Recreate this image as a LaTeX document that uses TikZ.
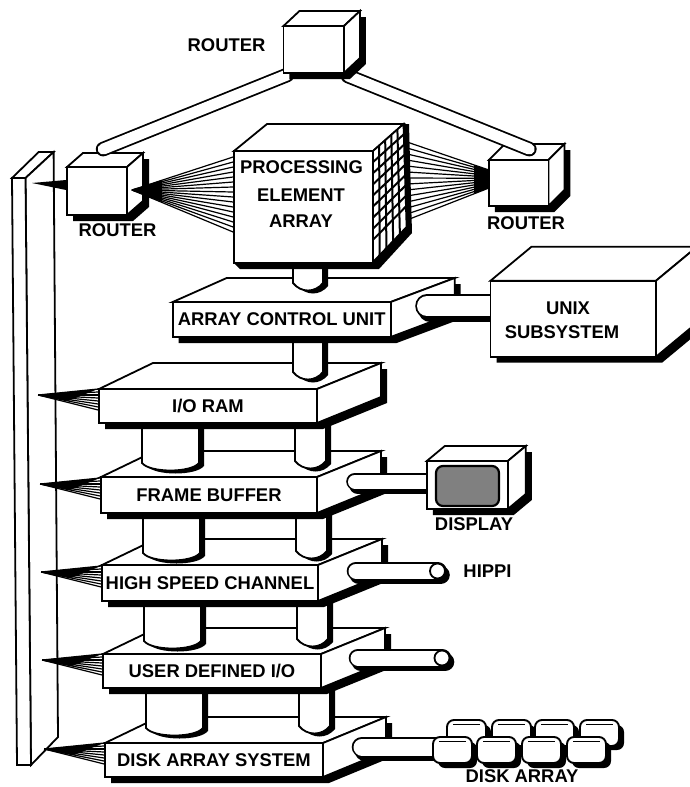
\documentclass[tikz,border=0pt]{standalone}
\usepackage{fontspec}
\setmainfont{Liberation Sans}
\usetikzlibrary{calc}
\tikzset{
  face/.style={draw=black,fill=white,line width=1.8pt,line join=miter},
  lbl/.style={font=\fontsize{18.4}{20}\selectfont\bfseries,inner sep=0pt},
  fan line/.style={draw=black,line width=1.2pt},
  hose/.style={draw=black,double=white,line width=1.8pt,line cap=round},
  hose shade/.style={draw=black,line cap=round,transform canvas={xshift=3pt,yshift=-4pt}},
  hose end/.style={circle,face,minimum size=15pt,inner sep=0pt},
  screen/.style={draw=black,fill=black!50,line width=2.2pt,rounded corners=7pt,inner sep=0pt},
  grid line/.style={draw=black,line width=2pt},
  disk/.style={draw=black,fill=white,line width=1.9pt,rounded corners=7pt},
  disk shade/.style={fill=black,rounded corners=7pt}
}
\newcommand{\slab}[9]{%
  \begin{scope}[shift={(#2,#3)}]
    \fill[black,shift={(6,6)}] (-#4/2,#5/2) -- (#4/2,#5/2) -- (#4/2+#7,#5/2-#8) -- (#4/2+#7,-#5/2-#8)
      -- (-#4/2+#6,-#5/2-#8) -- (-#4/2,-#5/2) -- cycle;
    \draw[face] (-#4/2,-#5/2) -- (-#4/2+#6,-#5/2-#8) -- (#4/2+#7,-#5/2-#8) -- (#4/2,-#5/2) -- cycle;
    \draw[face] (#4/2,-#5/2) -- (#4/2+#7,-#5/2-#8) -- (#4/2+#7,#5/2-#8) -- (#4/2,#5/2) -- cycle;
    \node[face,lbl,minimum width=#4pt,minimum height=#5pt] (#1) at (0,0) {#9};
  \end{scope}}
\newcommand{\stackpost}[4]{%
  \fill[black,shift={(5,3)}] (#1,#3) -- (#1,#4) .. controls (#1+8,#4+10) and (#2-8,#4+10) .. (#2,#4) -- (#2,#3) -- cycle;
  \draw[face] (#1,#3) -- (#1,#4) .. controls (#1+8,#4+10) and (#2-8,#4+10) .. (#2,#4) -- (#2,#3);}

\begin{document}
\begin{tikzpicture}[x=1pt,y=-1pt]
  \path[use as bounding box,fill=white] (0,0) rectangle (689,787);

  \draw[face] (12,178) -- (38.7,152) -- (53.6,152) -- (25.5,178) -- cycle;
  \draw[face] (25.5,178) -- (53.6,152) -- (58,737) -- (31,765) -- cycle;
  \draw[face] (12,178) -- (25.5,178) -- (31,765) -- (17,765) -- cycle;

  \slab{dasys}{214}{760}{218}{34}{54}{63}{26}{DISK ARRAY SYSTEM}
  \foreach \nm/\cx/\cy/\fw/\fh/\txt in {udio/212/671/218/34/{USER DEFINED I/O},
      hschan/210/583/216/36/{HIGH SPEED CHANNEL},fbuf/209/495/216/36/{FRAME BUFFER},
      ioram/208/406/218/34/{I/O RAM}}{
    \stackpost{\cx-66}{\cx-9}{\cy}{\cy+\fh/2+40}
    \stackpost{\cx+87}{\cx+118}{\cy}{\cy+\fh/2+38}
    \slab{\nm}{\cx}{\cy}{\fw}{\fh}{54}{64}{26}{\txt}
  }
  \foreach \nm in {dasys,udio,hschan,fbuf,ioram}{
    \foreach \f in {17,14,...,-5}{
      \draw[fan line] ([xshift=-60pt,yshift=11pt]\nm.west) -- ([yshift=\f pt]\nm.west);
    }
    \fill[black] ([xshift=-60pt,yshift=11pt]\nm.west) -- ([yshift=17pt]\nm.west) -- ([xshift=-30pt,yshift=5pt]\nm.west) -- cycle;
  }

  \stackpost{293}{323}{330}{372}
  \slab{acu}{281.7}{319.5}{218}{35}{54}{64}{24}{ARRAY CONTROL UNIT}

  \foreach \from/\to/\xa/\xb/\y/\dd in {acu out/unix in/427/505/306/20,fbuf out/display in/355/440/481.5/14,
      hschan out/hippi in/356/437.5/571/15,udio out/udio in/358/442/658/15,dasys out/disks in/362/445/747/17}{
    \coordinate (\from) at (\xa,\y);
    \coordinate (\to) at (\xb,\y);
    \draw[hose shade,line width=\dd pt+3.6pt] (\from) -- (\to);
    \draw[hose,double distance=\dd pt] (\from) -- (\to);
  }
  \node[hose end] (hippi end) at (hippi in) {};
  \node[hose end] (udio end) at (udio in) {};
  \node[lbl] (hippi) at (487.5,571) {HIPPI};

  \slab{unix}{573.3}{318.7}{165.5}{76}{41}{41}{34}{}
  \node[lbl] (unix top) at (568,308) {UNIX};
  \node[lbl] (unix low) at (562,332) {SUBSYSTEM};

  \slab{display}{467.3}{485}{81}{48}{18}{18}{15}{}
  \node[screen,minimum width=63pt,minimum height=40pt] (scrn) at (467.5,486) {};
  \node[lbl] (display lbl) at (474,524) {DISPLAY};

  \foreach \x in {447,492,535,580}{
    \fill[disk shade] (\x+5,725) rectangle (\x+44,750);
    \draw[disk] (\x,720) rectangle (\x+39,746);
    \draw[line width=.9pt] (\x+6,724) -- (\x+33,724);
  }
  \foreach \x in {433,477,522,567}{
    \fill[disk shade] (\x+5,742) rectangle (\x+44,768);
    \draw[disk] (\x,737) rectangle (\x+39,763);
    \draw[line width=.9pt] (\x+6,741) -- (\x+33,741);
  }
  \node[lbl] (disk lbl) at (522,776.5) {DISK ARRAY};

  \stackpost{293}{323}{255}{283}
  \fill[black] (240,269) -- (379,269) -- (412,233) -- (409,124) -- (403,124) -- (373,151) -- (234,263) -- cycle;
  \draw[face] (234,151) -- (267,124) -- (403.5,124) -- (373,151) -- cycle;
  \coordinate (pnw) at (373,151);
  \coordinate (pne) at (403.5,124);
  \coordinate (pse) at (406.6,227);
  \coordinate (psw) at (373,262);
  \draw[face] (pnw) -- (pne) -- (pse) -- (psw) -- cycle;
  \foreach \t in {.2,.4,.6,.8}{
    \draw[grid line] ($(pnw)!\t!(pne)$) -- ($(psw)!\t!(pse)$);
  }
  \foreach \t in {.1,.2,...,.85}{
    \draw[grid line] ($(pnw)!\t!(psw)$) -- ($(pne)!\t!(pse)$);
  }
  \node[face,minimum width=139pt,minimum height=112pt] (pearray) at (303.5,207) {};
  \node[lbl] (pe one) at (301.5,167) {PROCESSING};
  \node[lbl] (pe two) at (301,195) {ELEMENT};
  \node[lbl] (pe three) at (301,221.5) {ARRAY};

  \slab{rleft}{97}{191}{60}{48}{16}{16}{14}{}
  \slab{rright}{518.7}{183}{59.5}{46}{16}{16}{16}{}
  \node[lbl] (rleft lbl) at (117.5,230.5) {ROUTER};
  \node[lbl] (rright lbl) at (526,223) {ROUTER};

  \coordinate (rleft in) at (132,190);
  \coordinate (rright in) at (489,179);
  \coordinate (pe out) at (407,181);
  \coordinate (plane tip) at (32,183);
  \foreach \f in {50,45,...,-25}{
    \draw[fan line] (rleft in) -- ([yshift=\f pt]pearray.west);
  }
  \fill[black] (rleft in) -- ([xshift=-71pt,yshift=27pt]pearray.west) -- ([xshift=-71pt,yshift=5pt]pearray.west) -- cycle;
  \foreach \f in {39,33,...,-39}{
    \draw[fan line] ([yshift=\f pt]pe out) -- ([yshift=\f*0.23 pt]rright in);
  }
  \fill[black] ([yshift=9pt]rright in) -- ([xshift=-15pt,yshift=14pt]rright in) -- ([xshift=-15pt,yshift=-15pt]rright in) -- ([yshift=-9pt]rright in) -- cycle;
  \fill[black] (plane tip) -- ([yshift=11pt]rleft.west) -- ([yshift=1pt]rleft.west) -- cycle;

  \coordinate (rtop left) at (287,75);
  \coordinate (rtop right) at (348,76);
  \draw[hose,double distance=11pt] (rtop left) -- ([xshift=37pt,yshift=17pt]rleft.north west);
  \draw[hose,double distance=11pt] (rtop right) -- ([xshift=-20pt,yshift=10pt]rright.north east);
  \slab{rtop}{313.7}{49.5}{60.5}{47}{16}{16}{15}{}
  \node[lbl] (rtop lbl) at (226.5,45.5) {ROUTER};
\end{tikzpicture}
\end{document}
